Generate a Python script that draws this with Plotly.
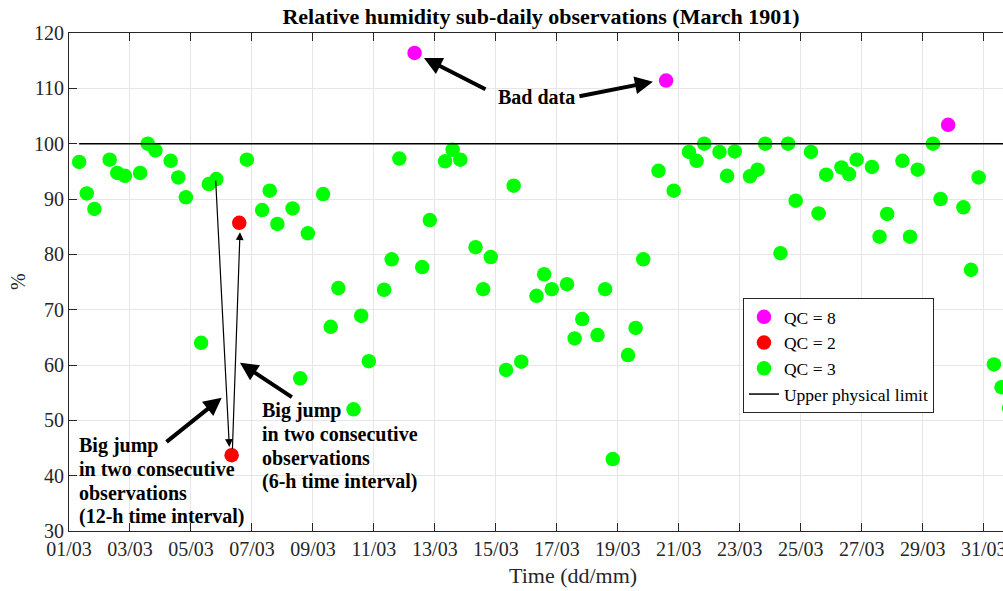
import plotly.graph_objects as go

# observation times: three readings a day (08, 14, 20 h)
days = ["1901-03-%02d" % d for d in range(1, 32)]
obs_hours = ["08:00", "14:00", "20:00"]

# relative humidity (%), one row per day
rh = [
    96.7, 91.0, 88.2,    # 01/03
    97.1, 94.7, 94.2,    # 02/03
    94.7, 100.0, 98.8,   # 03/03
    96.9, 93.9, 90.3,    # 04/03
    64.0, 92.7, 93.6,    # 05/03
    43.7, 85.7, 97.1,    # 06/03
    88.0, 91.5, 85.5,    # 07/03
    88.3, 57.6, 83.8,    # 08/03
    90.9, 66.9, 73.9,    # 09/03
    52.0, 68.9, 60.7,    # 10/03
    73.6, 79.1, 97.3,    # 11/03
    116.4, 77.7, 86.2,   # 12/03
    96.8, 98.9, 97.1,    # 13/03
    81.3, 73.7, 79.5,    # 14/03
    59.1, 92.4, 60.6,    # 15/03
    72.5, 76.4, 73.7,    # 16/03
    74.6, 64.8, 68.3,    # 17/03
    65.4, 73.7, 43.0,    # 18/03
    61.8, 66.7, 79.1,    # 19/03
    95.1, 111.4, 91.5,   # 20/03
    98.5, 96.9, 100.0,   # 21/03
    98.5, 94.2, 98.6,    # 22/03
    94.1, 95.3, 100.0,   # 23/03
    80.2, 100.0, 89.7,   # 24/03
    98.5, 87.4, 94.4,    # 25/03
    95.7, 94.5, 97.1,    # 26/03
    95.8, 83.2, 87.3,    # 27/03
    96.9, 83.2, 95.3,    # 28/03
    100.0, 90.0, 103.4,  # 29/03
    88.5, 77.2, 93.9,    # 30/03
    60.1, 56.0, 52.2,    # 31/03
]

# quality control flag of each observation (same layout, one row per day)
qc = [
    3, 3, 3,   # 01/03
    3, 3, 3,
    3, 3, 3,
    3, 3, 3,
    3, 3, 3,
    2, 2, 3,   # 06/03
    3, 3, 3,
    3, 3, 3,
    3, 3, 3,
    3, 3, 3,
    3, 3, 3,
    8, 3, 3,   # 12/03
    3, 3, 3,
    3, 3, 3,
    3, 3, 3,
    3, 3, 3,
    3, 3, 3,
    3, 3, 3,
    3, 3, 3,
    3, 8, 3,   # 20/03
    3, 3, 3,
    3, 3, 3,
    3, 3, 3,
    3, 3, 3,
    3, 3, 3,
    3, 3, 3,
    3, 3, 3,
    3, 3, 3,
    3, 3, 8,   # 29/03
    3, 3, 3,
    3, 3, 3,
]

upper_limit = 100

times = [d + " " + h for d in days for h in obs_hours]

qc_colors = {8: "#FF00FF", 2: "#FF0000", 3: "#00FF00"}
qc_rank = {8: 1, 2: 2, 3: 3}

fig = go.Figure()

for flag in [3, 2, 8]:
    fig.add_trace(go.Scatter(
        x=[t for t, f in zip(times, qc) if f == flag],
        y=[v for v, f in zip(rh, qc) if f == flag],
        mode="markers",
        marker=dict(color=qc_colors[flag], size=14.5, line=dict(width=0)),
        name="QC = %d" % flag,
        legendrank=qc_rank[flag],
    ))

fig.add_trace(go.Scatter(
    x=[times[0], times[-1]],
    y=[upper_limit, upper_limit],
    mode="lines",
    line=dict(color="black", width=1.5),
    name="Upper physical limit",
    legendrank=4,
))


def day(d, h):
    # date string for an annotation position
    hh = int(h)
    mm = int(round((h - hh) * 60))
    return "1901-03-%02d %02d:%02d" % (d, hh, mm)


def arrow(x0, y0, x1, y1, width, size=1.0):
    return dict(
        x=x1, y=y1, ax=x0, ay=y0, xref="x", yref="y", axref="x", ayref="y",
        text="", showarrow=True, arrowhead=2, arrowsize=size,
        arrowwidth=width, arrowcolor="black",
    )


def text_block(x, ys, lines):
    return [dict(x=x, y=y, xref="x", yref="y", xanchor="left", yanchor="middle",
                 text="<b>%s</b>" % s, showarrow=False,
                 font=dict(size=20, color="black"))
            for y, s in zip(ys, lines)]


annotations = [
    # bad data
    dict(x=day(16, 7.7), y=108.5, xref="x", yref="y", text="<b>Bad data</b>",
         showarrow=False, font=dict(size=20, color="black")),
    arrow(day(14, 17.0), 109.7, day(12, 15.4), 115.5, 4, 0.9),
    arrow(day(17, 16.6), 108.5, day(20, 3.6), 111.2, 4, 0.9),
    # jumps
    arrow(day(5, 19.4), 93.6, day(6, 6.2), 45.2, 1.2, 1.3),
    arrow(day(6, 8.6), 44.6, day(6, 14.6), 84.0, 1.2, 1.3),
    arrow(day(4, 3.6), 45.9, day(6, 0.2), 54.1, 4, 0.9),
    arrow(day(8, 8.6), 54.0, day(6, 14.6), 60.4, 4, 0.9),
    # axis titles
    dict(x=541 / 1003, y=-44.5 / 498, xref="paper", yref="paper", xanchor="center",
         yanchor="middle", text="Time (dd/mm)", showarrow=False,
         font=dict(size=22, color="#262626")),
    dict(x=-51 / 934, y=0.5, xref="paper", yref="paper", xanchor="center",
         yanchor="middle", text="%", textangle=-90, showarrow=False,
         font=dict(size=20, color="#262626")),
]
annotations += text_block(day(1, 5.9), [45.38, 41.17, 36.88, 32.66],
                          ["Big jump", "in two consecutive", "observations",
                           "(12-h time interval)"])
annotations += text_block(day(7, 6.7), [51.84, 47.50, 43.16, 38.87],
                          ["Big jump", "in two consecutive", "observations",
                           "(6-h time interval)"])

fig.update_layout(
    width=1003, height=591,
    margin=dict(l=69, r=0, t=33, b=60, autoexpand=False),
    plot_bgcolor="white", paper_bgcolor="white",
    font=dict(family="Liberation Serif", size=20, color="#262626"),
    title=dict(text="<b>Relative humidity sub-daily observations (March 1901)</b>",
               x=541 / 1003, xanchor="center", y=1 - 16.7 / 591, yanchor="middle",
               font=dict(size=22, color="black")),
    legend=dict(x=0.7216, y=0.468, xanchor="left", yanchor="top",
                bordercolor="#262626", borderwidth=1, bgcolor="white",
                font=dict(size=17.5, color="black"), tracegroupgap=0),
    annotations=annotations,
)

fig.update_xaxes(
    type="date", range=["1901-03-01 00:00", "1901-03-31 15:10"],
    tick0="1901-03-01", dtick=2 * 86400000, tickformat="%d/%m",
    ticks="inside", ticklen=8, tickcolor="#262626", ticklabeloverflow="allow",
    showline=True, linecolor="#262626", linewidth=1, mirror="allticks",
    showgrid=True, gridcolor="#e6e6e6", zeroline=False, automargin=False,
)
fig.update_yaxes(
    range=[30, 120], dtick=10,
    ticks="inside", ticklen=8, tickcolor="#262626",
    showline=True, linecolor="#262626", linewidth=1, mirror=False,
    showgrid=True, gridcolor="#e6e6e6", zeroline=False, automargin=False,
)

# the page body has a default 8px margin; drop it so the figure fills the window
fig.write_html("out.html", config={"displayModeBar": False},
               post_script="document.body.style.margin = '0';")
